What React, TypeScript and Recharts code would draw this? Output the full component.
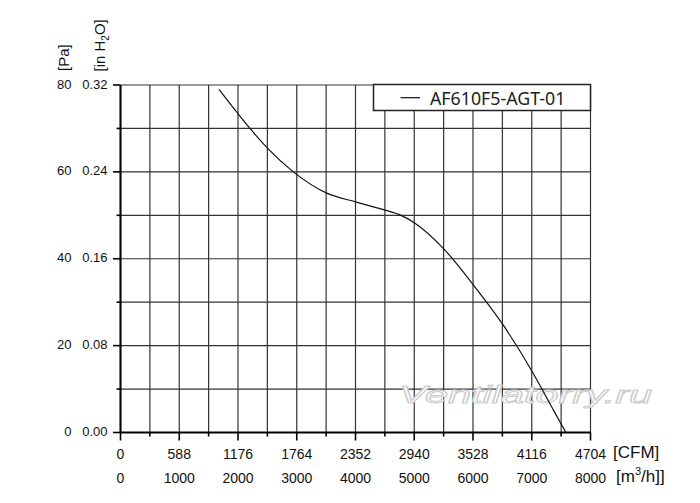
import { CartesianGrid, Line, LineChart, XAxis, YAxis } from "recharts";

// fan curve (flow in m3/h, static pressure in Pa)
const flowM3h = [1677, 1994, 2204, 2505, 2942, 3510, 4003, 4502, 4757, 5013, 5495, 6005, 6516, 7009, 7367, 7580];
const pressurePa = [79.0, 73.5, 70.0, 65.4, 60.0, 55.1, 53.1, 51.2, 50.1, 48.2, 42.4, 34.0, 24.7, 14.0, 5.2, 0];

const xTicks = [0, 500, 1000, 1500, 2000, 2500, 3000, 3500, 4000, 4500, 5000, 5500, 6000, 6500, 7000, 7500, 8000];
const m3hLabels = ["0", "1000", "2000", "3000", "4000", "5000", "6000", "7000", "8000"];
const cfmLabels = ["0", "588", "1176", "1764", "2352", "2940", "3528", "4116", "4704"];

const yTicks = [0, 10, 20, 30, 40, 50, 60, 70, 80];
const paLabels = ["0", "20", "40", "60", "80"];
const inH2OLabels = ["0.00", "0.08", "0.16", "0.24", "0.32"];

const seriesName = "AF610F5-AGT-01";

const data = flowM3h.map((flow, i) => ({ flow, pa: pressurePa[i] }));

const axisFont = "'Liberation Sans', Arial, sans-serif";

function XTick({ x, y, payload }: any) {
  const v = payload.value as number;
  const major = v % 1000 === 0;
  const idx = v / 1000;
  return (
    <g>
      <line x1={x} x2={x} y1={y} y2={y + (major ? 8 : 4)} stroke="#000" strokeWidth={1.6} />
      {major && (
        <>
          <text x={x} y={y + 26.5} textAnchor="middle" fontSize={14} fontFamily={axisFont} fill="#111">
            {cfmLabels[idx]}
          </text>
          <text x={x} y={y + 50.5} textAnchor="middle" fontSize={14} fontFamily={axisFont} fill="#111">
            {m3hLabels[idx]}
          </text>
        </>
      )}
    </g>
  );
}

function YTick({ x, y, payload }: any) {
  const v = payload.value as number;
  const major = v % 20 === 0;
  const idx = v / 20;
  return (
    <g>
      <line x1={x - (major ? 7.5 : 4)} x2={x} y1={y} y2={y} stroke="#000" strokeWidth={1.6} />
      {major && (
        <>
          <text x={x - 49} y={y + 3.5} textAnchor="end" fontSize={13} fontFamily={axisFont} fill="#111">
            {paLabels[idx]}
          </text>
          <text x={x - 13} y={y + 3.5} textAnchor="end" fontSize={13} fontFamily={axisFont} fill="#111">
            {inH2OLabels[idx]}
          </text>
        </>
      )}
    </g>
  );
}

export default function App() {
  return (
    <div style={{ position: "absolute", left: 0, top: 0, width: 700, height: 503, background: "#fff" }}>
      <LineChart width={700} height={503} data={data} margin={{ top: 85, right: 109.5, bottom: 0, left: 0 }}>
        <CartesianGrid stroke="#333" strokeWidth={1.2} />
        <XAxis
          dataKey="flow"
          type="number"
          domain={[0, 8000]}
          ticks={xTicks}
          interval={0}
          height={70.5}
          tickSize={0}
          tickMargin={0}
          tickLine={false}
          axisLine={{ stroke: "#000", strokeWidth: 2 }}
          tick={<XTick />}
        />
        <YAxis
          type="number"
          domain={[0, 80]}
          ticks={yTicks}
          interval={0}
          width={120.5}
          tickSize={0}
          tickMargin={0}
          tickLine={false}
          axisLine={{ stroke: "#000", strokeWidth: 2 }}
          tick={<YTick />}
        />
        <text
          x={399}
          y={403}
          fontSize={24}
          fontStyle="italic"
          fontFamily={axisFont}
          fill="#fff"
          stroke="#cdcdcd"
          strokeWidth={1}
          textLength={253}
          lengthAdjust="spacingAndGlyphs"
        >
          Ventilatorry.ru
        </text>
        <Line
          type="monotone"
          dataKey="pa"
          name={seriesName}
          stroke="#111"
          strokeWidth={1.2}
          dot={false}
          isAnimationActive={false}
        />
        <g>
          <rect x={373.5} y={84.5} width={217} height={26} fill="#fff" stroke="#222" strokeWidth={1.5} />
          <line x1={400.5} x2={420} y1={97.7} y2={97.7} stroke="#111" strokeWidth={1.2} />
          <text x={430} y={104.5} fontSize={17.8} fontFamily="'Noto Sans', sans-serif" fill="#222">
            {seriesName}
          </text>
        </g>
        <text transform="translate(69,71) rotate(-90)" fontSize={15} fontFamily={axisFont} fill="#111">
          [Pa]
        </text>
        <text transform="translate(105,71.5) rotate(-90)" fontSize={15} fontFamily={axisFont} fill="#111">
          [in H
          <tspan fontSize={10} dy={4}>2</tspan>
          <tspan dy={-4}>O]</tspan>
        </text>
        <text x={613} y={458} fontSize={17} fontFamily={axisFont} fill="#111">
          [CFM]
        </text>
        <text x={616} y={482} fontSize={17} fontFamily={axisFont} fill="#111">
          [m
          <tspan fontSize={11} dy={-7}>3</tspan>
          <tspan dy={7}>/h]]</tspan>
        </text>
      </LineChart>
    </div>
  );
}
